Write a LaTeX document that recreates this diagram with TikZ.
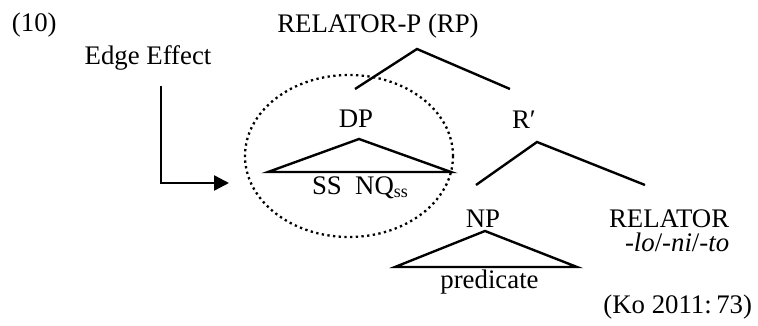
\documentclass[tikz,border=0pt]{standalone}
\usepackage{fontspec}
\setmainfont{Liberation Serif}
\usetikzlibrary{arrows.meta}
\begin{document}
\begin{tikzpicture}[x=1pt,y=-1pt,
  lbl/.style={inner sep=0pt,outer sep=0pt,font=\fontsize{26.8}{30}\selectfont},
  branch/.style={line width=2.4pt,line cap=butt,line join=miter},
  tri/.style={line width=2.4pt,line join=miter},
  ring/.style={line width=2.3pt,dash pattern=on 2.3pt off 3.4pt},
  pointer/.style={line width=2.4pt,-{Triangle[length=15pt,width=15pt]}}]
\useasboundingbox (0,0) rectangle (758,326);

% labels
\node[lbl,anchor=base west] (num) at (12,32) {(10)};
\node[lbl,anchor=base] (rp) at (378,33) {RELATOR-P (RP)};
\node[lbl,anchor=base] (edge) at (148,65) {Edge Effect};
\node[lbl,anchor=base] (dp) at (356,128) {DP};
\node[lbl,anchor=base west] (ssnq) at (312,194) {SS\ \ NQ\raisebox{-3pt}{\fontsize{18}{20}\selectfont ss}};
\node[lbl,anchor=base west] (rbar) at (512,129) {R′};
\node[lbl,anchor=base] (np) at (483,227) {NP};
\node[lbl,anchor=base] (pred) at (489.5,288) {predicate};
\node[lbl,anchor=base west] (rel) at (609,227) {RELATOR};
\node[lbl,anchor=base west] (relf) at (625,251) {-\textit{lo}/-\textit{ni}/-\textit{to}};
\node[lbl,anchor=base east] (cite) at (752,313) {(Ko 2011:\,73)};

% branching points
\coordinate (rpTop) at (417,49);
\coordinate (rpL) at (355,89);
\coordinate (rpR) at (510,89);
\coordinate (rbTop) at (537,142);
\coordinate (rbL) at (476,185);
\coordinate (rbR) at (645,185);

\draw[branch] (rpL) -- (rpTop) -- (rpR);
\draw[branch] (rbL) -- (rbTop) -- (rbR);

% triangles
\coordinate (dpA) at (359,139);
\coordinate (dpL) at (268,172);
\coordinate (dpR) at (451,172);
\draw[tri] (dpA) -- (dpL) -- (dpR) -- cycle;

\coordinate (npA) at (485,231);
\coordinate (npL) at (395,267);
\coordinate (npR) at (577,267);
\draw[tri] (npA) -- (npL) -- (npR) -- cycle;

% dotted ring round the DP
\coordinate (ringC) at (349,156);
\draw[ring] (ringC) ellipse [x radius=104, y radius=81];

% edge-effect pointer
\coordinate (arrS) at (161,86);
\coordinate (arrC) at (161,183);
\coordinate (arrE) at (229,183);
\draw[pointer] (arrS) -- (arrC) -- (arrE);
\end{tikzpicture}
\end{document}
